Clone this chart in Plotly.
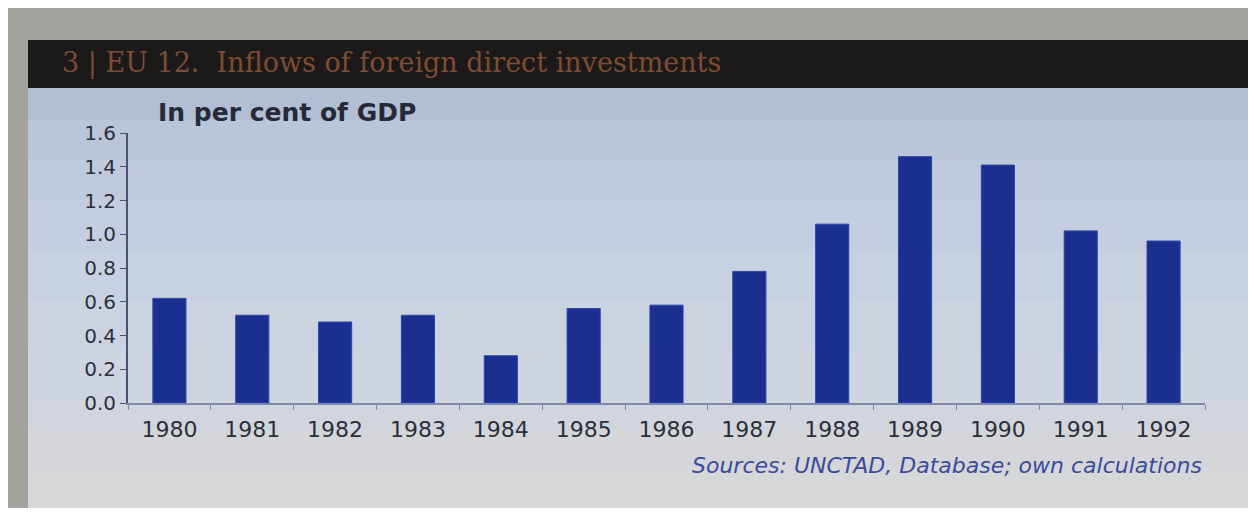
import plotly.graph_objects as go

years = ["1980", "1981", "1982", "1983", "1984", "1985", "1986",
         "1987", "1988", "1989", "1990", "1991", "1992"]
fdi_pct_gdp = [0.62, 0.52, 0.48, 0.52, 0.28, 0.56, 0.58,
               0.78, 1.06, 1.46, 1.41, 1.02, 0.96]
y_ticks = [0.0, 0.2, 0.4, 0.6, 0.8, 1.0, 1.2, 1.4, 1.6]

title_text = "3 | EU 12.  Inflows of foreign direct investments"
unit_text = "In per cent of GDP"
source_text = "Sources: UNCTAD, Database; own calculations"

# page is offset by the 8px body margin
W, H = 1240, 500
PW, PH = 1077, 270  # plot area size


def px(xp):
    return (xp - 128) / PW


def py(yp):
    return (403 - yp) / PH


fig = go.Figure()
fig.add_trace(go.Bar(
    x=years, y=fdi_pct_gdp,
    marker=dict(color="#1a2f8e", line=dict(color="#2b46b2", width=1)),
    width=0.4,
    showlegend=False,
    hoverinfo="x+y",
))

# panel background as vertical colour bands (photo gradient)
band_edges = [86, 120, 160, 200, 250, 300, 350, 400, 430, 470, 520]
band_cols = ["#b2bed4", "#bac5da", "#c0cadd", "#c5cee0", "#c8d1e1",
             "#cbd3e1", "#ced5e0", "#d1d6de", "#d4d6da", "#d6d7d8"]
shapes = []
for i, col in enumerate(band_cols):
    shapes.append(dict(type="rect", xref="paper", yref="paper",
                       x0=px(28), x1=px(1260),
                       y0=py(band_edges[i + 1]), y1=py(band_edges[i]),
                       fillcolor=col, line_width=0, layer="below"))
shapes.append(dict(type="rect", xref="paper", yref="paper",
                   x0=px(28), x1=px(1260), y0=py(88), y1=py(40),
                   fillcolor="#1c1919", line_width=0, layer="below"))

fig.update_layout(
    width=W, height=H,
    margin=dict(l=120, r=43, t=125, b=105),
    paper_bgcolor="#a3a29d",
    plot_bgcolor="rgba(0,0,0,0)",
    font=dict(family="DejaVu Sans", color="#2b2f3a"),
    shapes=shapes,
    bargap=0.6,
    xaxis=dict(
        type="category", tickson="boundaries",
        showgrid=False, zeroline=False,
        showline=True, linecolor="#8089aa", linewidth=2,
        ticks="outside", ticklen=5, tickcolor="#8089aa",
        tickfont=dict(size=22, color="#2b2f3a"),
        ticklabelstandoff=6,
        range=[-0.5, 12.5],
    ),
    yaxis=dict(
        range=[0, 1.6], tickvals=y_ticks, tickformat=".1f",
        showgrid=False, zeroline=False,
        showline=True, linecolor="#4a5270", linewidth=2,
        ticks="outside", ticklen=6, tickcolor="#4a5270",
        tickfont=dict(size=20, color="#2b2f3a"),
    ),
    annotations=[
        dict(text=title_text, xref="paper", yref="paper",
             x=px(60), y=py(63),
             xanchor="left", yanchor="middle", showarrow=False,
             font=dict(family="DejaVu Serif", size=27, color="#7e4c34")),
        dict(text="<b>" + unit_text + "</b>", xref="paper", yref="paper",
             x=px(156), y=py(112),
             xanchor="left", yanchor="middle", showarrow=False,
             font=dict(family="DejaVu Sans", size=25, color="#252a36")),
        dict(text="<i>" + source_text + "</i>", xref="paper", yref="paper",
             x=px(1204), y=py(465),
             xanchor="right", yanchor="middle", showarrow=False,
             font=dict(family="DejaVu Sans", size=22, color="#3a4b9c")),
    ],
)

fig.write_html("out.html")
